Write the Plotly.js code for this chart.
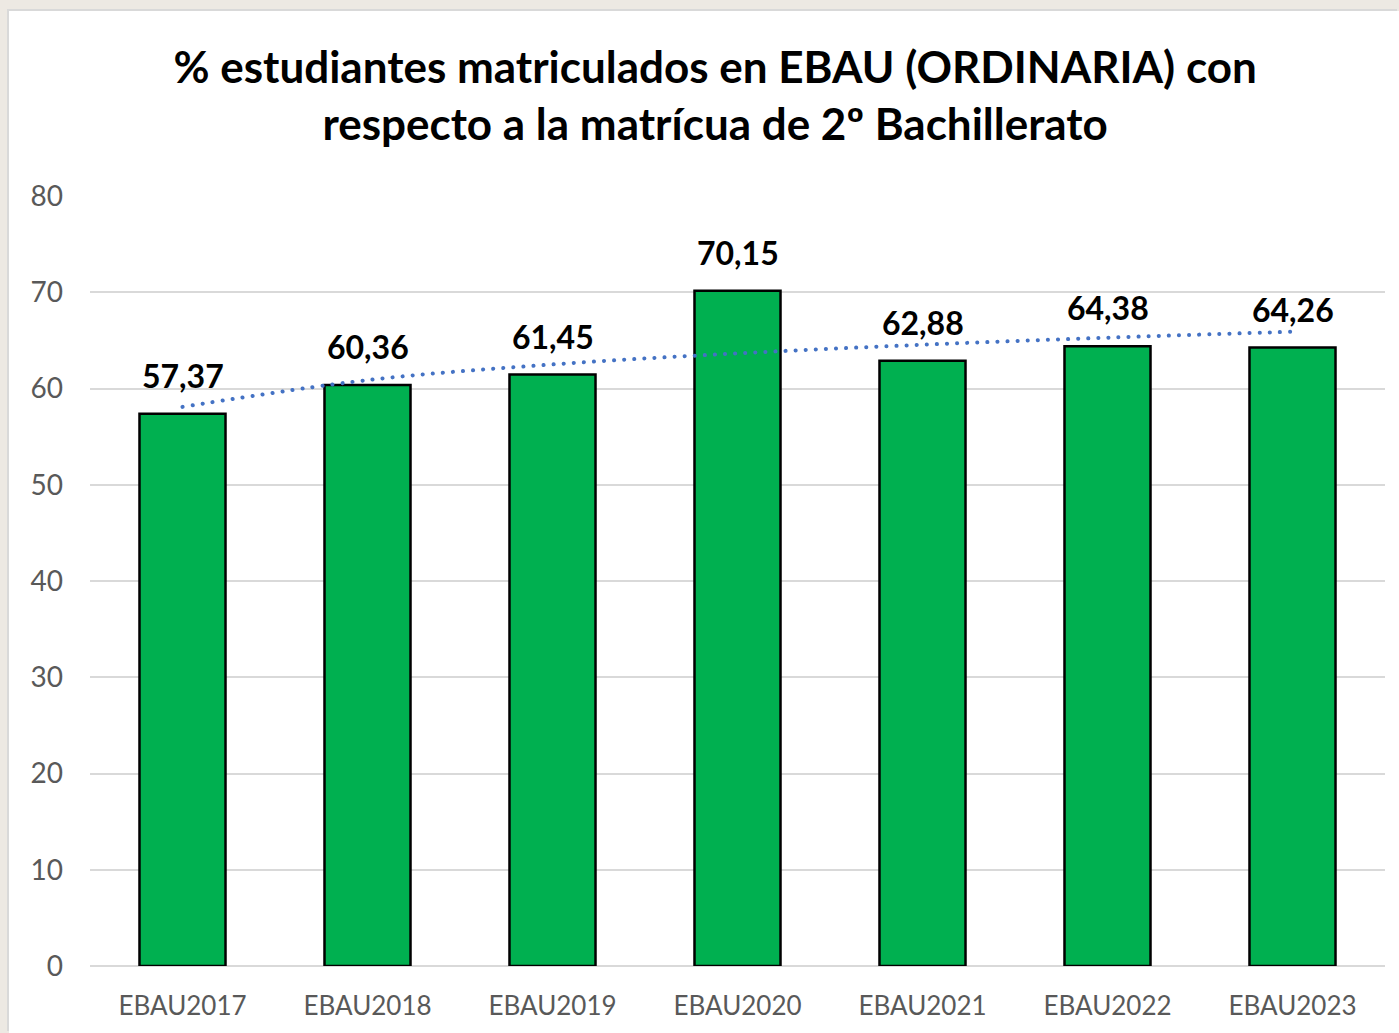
<!DOCTYPE html>
<html>
<head>
<meta charset="utf-8">
<script src="https://cdn.plot.ly/plotly-3.0.1.min.js"></script>
<style>
html, body { margin:0; padding:0; background:#ede9e3; width:1399px; height:1033px; overflow:hidden; }
#chart { position:absolute; left:9px; top:11px; width:1390px; height:1022px; background:#fff; box-shadow: -2px -2px 0 #d9d9d9; }
</style>
</head>
<body>
<div id="chart"></div>
<script>
const categories = ["EBAU2017","EBAU2018","EBAU2019","EBAU2020","EBAU2021","EBAU2022","EBAU2023"];
const values = [57.37, 60.36, 61.45, 70.15, 62.88, 64.38, 64.26];
const yTicks = [0,10,20,30,40,50,60,70,80];
const titleText = "% estudiantes matriculados en EBAU (ORDINARIA) con<br>respecto a la matrícua de 2º Bachillerato";

// Logarithmic trendline (least squares on ln(x)), as in the spreadsheet
const lx = values.map((v,i)=>Math.log(i+1));
const n = values.length;
const mx = lx.reduce((a,b)=>a+b,0)/n;
const my = values.reduce((a,b)=>a+b,0)/n;
let sxy=0, sxx=0;
for (let i=0;i<n;i++){ sxy += (lx[i]-mx)*(values[i]-my); sxx += (lx[i]-mx)**2; }
const slope = sxy/sxx, intercept = my - slope*mx;
const trend = lx.map(l => intercept + slope*l);

const fontFam = "Lato, 'Open Sans', sans-serif";

const bars = {
  type:'bar', x:categories, y:values, width:0.465,
  marker:{color:'#00b050', line:{color:'#000000', width:2.5}},
  hoverinfo:'none', showlegend:false
};
const trendTrace = {
  type:'scatter', mode:'lines', x:categories, y:trend,
  line:{color:'#4472c4', width:4, dash:'dot', shape:'spline'},
  hoverinfo:'none', showlegend:false
};

const annotations = categories.map((c,i)=>({
  x:c, y:values[i], xref:'x', yref:'y', yanchor:'bottom', yshift:17,
  text:values[i].toFixed(2).replace('.',','), showarrow:false,
  font:{family:fontFam, size:32, color:'#000000', weight:'bold'}
}));

const layout = {
  width:1390, height:1022,
  paper_bgcolor:'#ffffff', plot_bgcolor:'#ffffff',
  margin:{l:81, r:14, t:185, b:67},
  title:{text:titleText, font:{family:fontFam, size:44, color:'#000000', weight:'bold'},
         x:0.508, xanchor:'center', y:0.930, yanchor:'middle'},
  bargap:0.535,
  xaxis:{type:'category', showgrid:false, zeroline:false, showline:false, ticks:'',
         tickfont:{family:fontFam, size:26, color:'#595959'}, ticklabelstandoff:22},
  yaxis:{range:[0,80], tickvals:yTicks, ticktext:yTicks.map(String), showgrid:true,
         gridcolor:'#d9d9d9', gridwidth:2, zeroline:true, zerolinecolor:'#d9d9d9', zerolinewidth:2,
         showline:false, ticks:'', tickfont:{family:fontFam, size:28, color:'#595959'}, ticklabelstandoff:26},
  annotations:annotations
};

Plotly.newPlot('chart', [bars, trendTrace], layout, {displayModeBar:false, staticPlot:true}).then(gd => {
  gd.querySelectorAll('.scatterlayer .js-line').forEach(p => {
    p.style.strokeLinecap = 'round';
    p.style.strokeDasharray = '0.1px, 10px';
  });
});
</script>
</body>
</html>
